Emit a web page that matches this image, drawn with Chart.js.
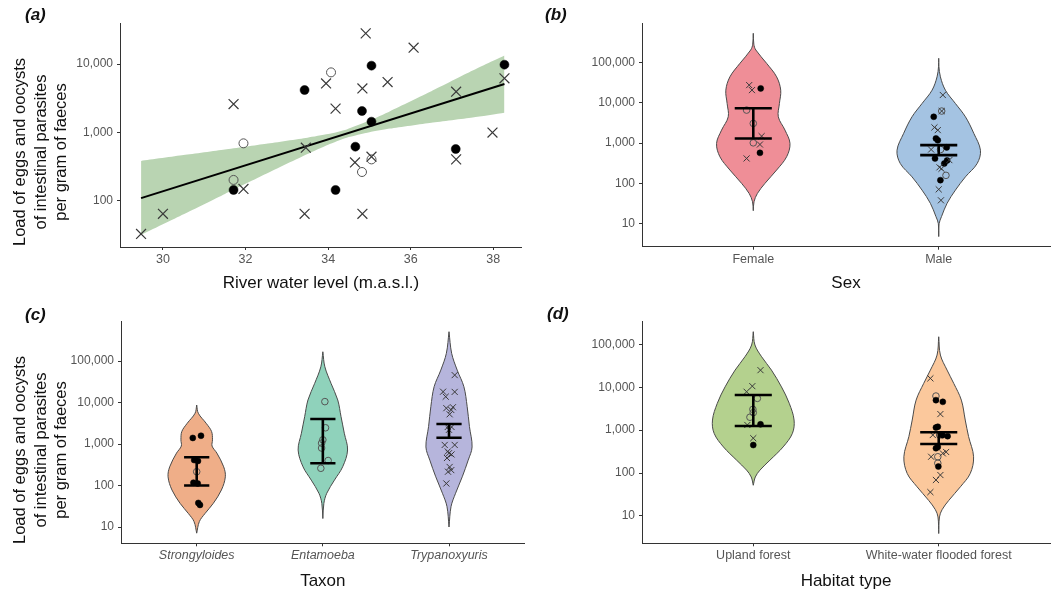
<!DOCTYPE html>
<html>
<head>
<meta charset="utf-8">
<script src="https://cdn.jsdelivr.net/npm/chart.js@4.4.1/dist/chart.umd.min.js"></script>
<style>
  html, body { margin: 0; padding: 0; background: #fff; }
  #fig { position: relative; width: 1057px; height: 590px; background: #fff; overflow: hidden;
         font-family: "Liberation Sans", Arial, sans-serif; }
  canvas { position: absolute; }
  .tag { position: absolute; font-weight: bold; font-style: italic; font-size: 17px; color: #111; }
  .ytitle { position: absolute; width: 260px; height: 62px; line-height: 20.5px; text-align: center;
            font-size: 16.5px; color: #111; transform: rotate(-90deg); }
</style>
</head>
<body>
<div id="fig">
  <canvas id="pa" width="530" height="300" style="left:0;top:0"></canvas>
  <canvas id="pb" width="527" height="300" style="left:530px;top:0"></canvas>
  <canvas id="pc" width="530" height="290" style="left:0;top:300px"></canvas>
  <canvas id="pd" width="527" height="290" style="left:530px;top:300px"></canvas>
  <div class="tag" style="left:25px;top:5px">(a)</div>
  <div class="tag" style="left:545px;top:5px">(b)</div>
  <div class="tag" style="left:25px;top:305px">(c)</div>
  <div class="tag" style="left:547px;top:304px">(d)</div>
  <div class="ytitle" style="left:-90px;top:121px">Load of eggs and oocysts<br>of intestinal parasites<br>per gram of faeces</div>
  <div class="ytitle" style="left:-90px;top:419px">Load of eggs and oocysts<br>of intestinal parasites<br>per gram of faeces</div>
</div>
<script>
// ---- (a) river level vs load ----
const crossLevel = [29.47, 30.0, 31.71, 31.95, 33.46, 33.43, 33.95, 34.18, 34.83, 34.91, 34.65, 34.83, 35.05, 35.44, 36.07, 37.10, 37.10, 37.98, 38.27];
const crossLoad  = [33, 65, 2600, 150, 600, 65, 5200, 2230, 4400, 28000, 366, 65, 444, 5460, 17300, 3940, 405, 1000, 6180];
const dotLevel = [31.71, 33.43, 34.18, 34.66, 34.82, 35.05, 35.05, 37.09, 38.27];
const dotLoad  = [145, 4170, 145, 621, 2060, 9460, 1440, 574, 9780];
const ringLevel = [31.95, 31.71, 34.07, 34.82, 35.05];
const ringLoad  = [695, 203, 7550, 265, 405];
const fitLevel = [29.47, 38.27];
const fitLoad  = [110, 5100];
const bandLevel = [29.47, 30.5, 31.5, 32.5, 33.5, 34.0, 34.45, 35.0, 35.5, 36.5, 37.5, 38.27];
const bandUpper = [385, 468, 565, 686, 841, 948, 1110, 1491, 2050, 4000, 8020, 13300];
const bandLower = [32, 64, 127, 250, 486, 665, 841, 1010, 1140, 1390, 1660, 1950];
const levelTicks = [30, 32, 34, 36, 38];
const loadTicksA = [100, 1000, 10000];

// ---- (b) sex ----
const sexLabels = ['Female', 'Male'];
const femaleLevels = [525000, 282000, 202000, 94400, 43700, 20400, 9550, 4470, 2090, 977, 457, 214, 100, 56, 35, 21];
const femaleWidth  = [0, 0.003, 0.014, 0.072, 0.126, 0.148, 0.141, 0.135, 0.171, 0.198, 0.18, 0.126, 0.063, 0.022, 0.004, 0];
const maleLevels = [126000, 79000, 43700, 20400, 9550, 4470, 1740, 661, 309, 145, 68, 32, 15, 10, 4.8];
const maleWidth  = [0, 0.001, 0.009, 0.036, 0.09, 0.144, 0.189, 0.225, 0.207, 0.144, 0.09, 0.045, 0.015, 0.002, 0];
const femaleCross = [27300, 20500, 1480, 920, 415];
const femaleCrossJ = [-0.022, -0.007, 0.045, 0.036, -0.036];
const femaleDot = [22600, 570];
const femaleDotJ = [0.04, 0.036];
const femaleRing = [6550, 3060, 1010];
const femaleRingJ = [-0.036, 0, 0];
const maleCross = [15500, 6200, 2440, 2090, 690, 377, 250, 230, 71, 38];
const maleCrossJ = [0.022, 0.016, -0.023, -0.005, -0.041, 0.057, 0.004, 0.015, 0, 0.012];
const maleDot = [4470, 1300, 1170, 780, 415, 370, 310, 120];
const maleDotJ = [-0.027, -0.015, -0.005, 0.043, -0.02, 0.045, 0.03, 0.009];
const maleRing = [6200, 690, 158];
const maleRingJ = [0.016, 0.01, 0.039];
const sexErrLow = [1300, 500];
const sexErrHigh = [7250, 887];

// ---- (c) taxon ----
const taxonLabels = ['Strongyloides', 'Entamoeba', 'Trypanoxyuris'];
const strongLevels = [8700, 5500, 3160, 2000, 1260, 890, 603, 282, 162, 78, 37, 21, 13.5, 7.1];
const strongWidth  = [0, 0.013, 0.075, 0.118, 0.125, 0.122, 0.16, 0.214, 0.227, 0.196, 0.131, 0.065, 0.021, 0];
const entamLevels = [167000, 72400, 28800, 11500, 4570, 1820, 716, 282, 135, 65, 37, 16];
const entamWidth  = [0, 0.016, 0.065, 0.118, 0.144, 0.17, 0.196, 0.157, 0.092, 0.031, 0.008, 0];
const trypLevels = [508000, 153000, 60300, 24000, 7940, 2630, 851, 407, 162, 65, 31, 10];
const trypWidth  = [0, 0.021, 0.065, 0.118, 0.144, 0.162, 0.183, 0.152, 0.105, 0.052, 0.016, 0];
const strongDot = [1400, 1580, 410, 390, 117, 112, 38, 34];
const strongDotJ = [-0.031, 0.034, -0.02, 0.01, -0.026, 0.008, 0.013, 0.026];
const strongRing = [215];
const strongRingJ = [0];
const entamRing = [10500, 2460, 1260, 1050, 800, 400, 260];
const entamRingJ = [0.016, 0.021, 0, -0.01, -0.01, 0.042, -0.016];
const trypCross = [45700, 18200, 13800, 18000, 7300, 7700, 6600, 5200, 2570, 2570, 2200, 950, 950, 660, 600, 560, 460, 280, 235, 215, 112];
const trypCrossJ = [0.045, -0.047, -0.026, 0.045, -0.021, 0.031, 0.018, 0.005, -0.01, 0.02, 0, -0.034, 0.045, -0.01, 0, 0.02, -0.016, 0.005, 0.018, -0.008, -0.021];
const taxonErrLow = [100, 343, 1420];
const taxonErrHigh = [480, 4000, 3030];

// ---- (d) habitat ----
const habitatLabels = ['Upland forest', 'White-water flooded forest'];
const uplandLevels = [197000, 96400, 51300, 25100, 10200, 4220, 1720, 841, 407, 200, 117, 81, 52];
const uplandWidth  = [0, 0.009, 0.045, 0.098, 0.152, 0.194, 0.22, 0.211, 0.161, 0.09, 0.036, 0.011, 0];
const whiteLevels = [150000, 56200, 25100, 12300, 5010, 1720, 708, 240, 98, 48, 23, 14, 9.5, 3.9];
const whiteWidth  = [0, 0.009, 0.045, 0.081, 0.122, 0.143, 0.161, 0.188, 0.17, 0.117, 0.054, 0.018, 0.004, 0];
const uplandCross = [25000, 10600, 7850, 1320, 650];
const uplandCrossJ = [0.039, -0.005, -0.036, -0.032, 0];
const uplandDot = [1370, 450];
const uplandDotJ = [0.039, 0];
const uplandRing = [5500, 3050, 2560, 2000];
const uplandRingJ = [0.022, -0.002, 0, -0.018];
const whiteCross = [16100, 2370, 770, 240, 288, 310, 90, 69, 36];
const whiteCrossJ = [-0.045, 0.009, -0.032, -0.041, 0.022, 0.04, 0.009, -0.015, -0.045];
const whiteDot = [5000, 4570, 1200, 1150, 725, 760, 406, 380, 142];
const whiteDotJ = [-0.015, 0.022, -0.005, -0.015, 0.048, 0.02, -0.005, -0.015, -0.002];
const whiteRing = [6240, 770, 240, 170];
const whiteRingJ = [-0.015, 0.005, -0.005, -0.005];
const habitatErrLow = [1245, 475];
const habitatErrHigh = [6580, 890];

const violinTicks = [10, 100, 1000, 10000, 100000];

Chart.defaults.font.family = '"Liberation Sans", Arial, sans-serif';
Chart.defaults.animation = false;
Chart.defaults.plugins.legend.display = false;
Chart.defaults.plugins.tooltip.enabled = false;

const AXIS = '#333';

function yAxis(min, max, ticks, width) {
  return {
    type: 'logarithmic', min: min, max: max,
    afterBuildTicks: s => { s.ticks = ticks.map(v => ({value: v})); },
    afterFit: s => { s.width = width; },
    ticks: { autoSkip: false, color: '#555', font: {size: 12}, padding: 4,
             callback: v => Number(v).toLocaleString('en-US') },
    grid: { drawOnChartArea: false, tickLength: 3, tickColor: AXIS },
    border: { color: AXIS, width: 1 }
  };
}

function xAxis(min, max, ticks, labels, height, title, italic, pad) {
  return {
    type: 'linear', min: min, max: max,
    afterBuildTicks: s => { s.ticks = ticks.map(v => ({value: v})); },
    afterFit: s => { s.height = height; },
    ticks: { autoSkip: false, maxRotation: 0, color: '#555', padding: 2,
             font: {size: 12.5, style: italic ? 'italic' : 'normal'},
             callback: (v, i) => labels ? labels[i] : v },
    grid: { drawOnChartArea: false, tickLength: 3, tickColor: AXIS },
    border: { color: AXIS, width: 1 },
    title: { display: true, text: title, color: '#111', font: {size: 17, lineHeight: 1},
             padding: {top: 0, bottom: pad} }
  };
}

function markers(xs, ys, kind, big) {
  const d = {type: 'line', showLine: false, data: xs.map((x, i) => ({x: x, y: ys[i]})), order: 1};
  if (kind === 'cross') {
    Object.assign(d, {pointStyle: 'crossRot', pointRadius: big ? 7 : 4.3, pointBorderColor: '#3a3a3a',
                      pointBorderWidth: big ? 1.2 : 1, pointBackgroundColor: 'rgba(0,0,0,0)'});
  } else if (kind === 'dot') {
    Object.assign(d, {pointStyle: 'circle', pointRadius: big ? 4.5 : 3, pointBorderColor: '#000',
                      pointBorderWidth: 0.5, pointBackgroundColor: '#000'});
  } else {
    Object.assign(d, {pointStyle: 'circle', pointRadius: big ? 4.5 : 3.3, pointBorderColor: '#555',
                      pointBorderWidth: 1, pointBackgroundColor: 'rgba(0,0,0,0)'});
  }
  return d;
}

function jittered(center, ys, jit, kind) {
  return markers(ys.map((y, i) => center + jit[i]), ys, kind, false);
}

function violin(center, levels, widths, color) {
  const left = levels.map((v, i) => ({x: center - widths[i], y: v}));
  const right = levels.map((v, i) => ({x: center + widths[i], y: v})).reverse();
  return {type: 'line', data: left.concat(right), fill: 'shape', backgroundColor: color,
          borderColor: '#4a4a4a', borderWidth: 1, pointRadius: 0, tension: 0.35, order: 3};
}

function errorBar(center, lo, hi) {
  const w = 0.1;
  return {type: 'line', data: [
            {x: center - w, y: hi}, {x: center + w, y: hi}, {x: center, y: hi},
            {x: center, y: lo}, {x: center - w, y: lo}, {x: center + w, y: lo}],
          borderColor: '#000', borderWidth: 2.6, pointRadius: 0, tension: 0, fill: false, order: 0};
}

// panel (a)
new Chart(document.getElementById('pa'), {
  type: 'line',
  data: { datasets: [
    {data: bandLevel.map((x, i) => ({x: x, y: bandUpper[i]})), fill: '+1', backgroundColor: '#b9d4b2',
     borderWidth: 0, pointRadius: 0, tension: 0.2, order: 5},
    {data: bandLevel.map((x, i) => ({x: x, y: bandLower[i]})), fill: false,
     borderWidth: 0, pointRadius: 0, tension: 0.2, order: 6},
    {data: fitLevel.map((x, i) => ({x: x, y: fitLoad[i]})), borderColor: '#000', borderWidth: 2,
     pointRadius: 0, fill: false, order: 2},
    markers(crossLevel, crossLoad, 'cross', true),
    markers(dotLevel, dotLoad, 'dot', true),
    markers(ringLevel, ringLoad, 'ring', true)
  ]},
  options: {
    responsive: false,
    layout: {padding: {top: 23, right: 1, left: 0, bottom: 0}},
    scales: {
      x: xAxis(28.96, 38.69, levelTicks, null, 53, 'River water level (m.a.s.l.)', false, 8),
      y: yAxis(21.3, 39700, loadTicksA, 120)
    }
  }
});

// violin panels
function violinChart(id, opts) {
  new Chart(document.getElementById(id), {
    type: 'line',
    data: { datasets: opts.datasets },
    options: {
      responsive: false,
      layout: {padding: {top: opts.top, right: opts.right, left: 0, bottom: 0}},
      scales: {
        x: xAxis(0.4, opts.labels.length + 0.6, opts.labels.map((l, i) => i + 1), opts.labels,
                 opts.xh, opts.title, opts.italic, opts.pad),
        y: yAxis(opts.min, opts.max, violinTicks, opts.yw)
      }
    }
  });
}

violinChart('pb', {
  labels: sexLabels, title: 'Sex', italic: false, pad: 8, top: 23.3, right: 7, xh: 53.3, yw: 112,
  min: 2.69, max: 929000,
  datasets: [
    errorBar(1, sexErrLow[0], sexErrHigh[0]),
    errorBar(2, sexErrLow[1], sexErrHigh[1]),
    jittered(1, femaleCross, femaleCrossJ, 'cross'),
    jittered(1, femaleDot, femaleDotJ, 'dot'),
    jittered(1, femaleRing, femaleRingJ, 'ring'),
    jittered(2, maleCross, maleCrossJ, 'cross'),
    jittered(2, maleDot, maleDotJ, 'dot'),
    jittered(2, maleRing, maleRingJ, 'ring'),
    violin(1, femaleLevels, femaleWidth, '#ef8e97'),
    violin(2, maleLevels, maleWidth, '#a4c3e2')
  ]
});

violinChart('pc', {
  labels: taxonLabels, title: 'Taxon', italic: true, pad: 0, top: 21.7, right: 1, xh: 46.7, yw: 121,
  min: 4.05, max: 885000,
  datasets: [
    errorBar(1, taxonErrLow[0], taxonErrHigh[0]),
    errorBar(2, taxonErrLow[1], taxonErrHigh[1]),
    errorBar(3, taxonErrLow[2], taxonErrHigh[2]),
    jittered(1, strongDot, strongDotJ, 'dot'),
    jittered(1, strongRing, strongRingJ, 'ring'),
    jittered(2, entamRing, entamRingJ, 'ring'),
    jittered(3, trypCross, trypCrossJ, 'cross'),
    violin(1, strongLevels, strongWidth, '#efae88'),
    violin(2, entamLevels, entamWidth, '#8fd2bb'),
    violin(3, trypLevels, trypWidth, '#b6b5dc')
  ]
});

violinChart('pd', {
  labels: habitatLabels, title: 'Habitat type', italic: false, pad: 0, top: 21.7, right: 7, xh: 46.7, yw: 112,
  min: 2.31, max: 336500,
  datasets: [
    errorBar(1, habitatErrLow[0], habitatErrHigh[0]),
    errorBar(2, habitatErrLow[1], habitatErrHigh[1]),
    jittered(1, uplandCross, uplandCrossJ, 'cross'),
    jittered(1, uplandDot, uplandDotJ, 'dot'),
    jittered(1, uplandRing, uplandRingJ, 'ring'),
    jittered(2, whiteCross, whiteCrossJ, 'cross'),
    jittered(2, whiteDot, whiteDotJ, 'dot'),
    jittered(2, whiteRing, whiteRingJ, 'ring'),
    violin(1, uplandLevels, uplandWidth, '#b4d18e'),
    violin(2, whiteLevels, whiteWidth, '#fbc89c')
  ]
});
</script>
</body>
</html>
